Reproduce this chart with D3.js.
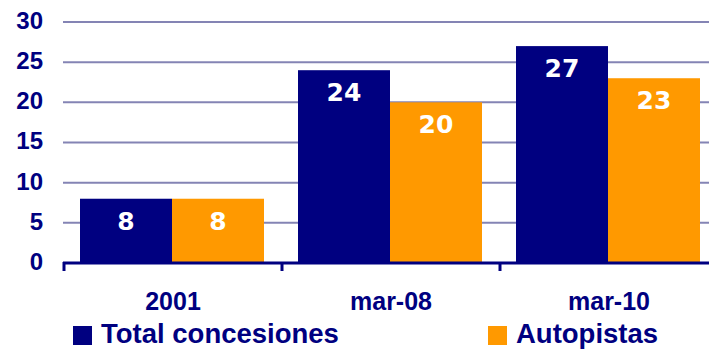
<!DOCTYPE html>
<html>
<head>
<meta charset="utf-8">
<script src="https://cdn.jsdelivr.net/npm/d3@7"></script>
<style>
  html, body { margin: 0; padding: 0; background: #fff; }
  svg { display: block; }
</style>
</head>
<body>
<svg id="chart" width="709" height="349"></svg>
<script>
const categories = ["2001", "mar-08", "mar-10"];
const seriesNames = ["Total concesiones", "Autopistas"];
const totalConcesiones = [8, 24, 27];
const autopistas = [8, 20, 23];
const yTicks = [0, 5, 10, 15, 20, 25, 30];

const colors = ["#000080", "#FF9900"];
const navy = "#000080";
const sans = "'Liberation Sans', Arial, sans-serif";

const W = 709, H = 349;
const svg = d3.select("#chart");

// category bands run from the axis origin past the right edge of the frame
const x0 = d3.scaleBand().domain(categories).range([64, 718]);
const y = d3.scaleLinear().domain([0, 30]).range([263, 22]);

const data = categories.map((c, i) => ({ cat: c, values: [totalConcesiones[i], autopistas[i]] }));

// horizontal gridlines
svg.append("g")
  .selectAll("line")
  .data(yTicks.filter(t => t > 0))
  .join("line")
  .attr("x1", 63).attr("x2", W)
  .attr("y1", d => y(d)).attr("y2", d => y(d))
  .attr("stroke", "#8484b4").attr("stroke-width", 2);

// y axis labels
const yAxis = d3.axisLeft(y).tickValues(yTicks).tickSize(0).tickPadding(0);
const yg = svg.append("g").attr("transform", "translate(43,0)").call(yAxis);
yg.select(".domain").remove();
yg.selectAll("text")
  .attr("dy", "0.27em")
  .attr("fill", navy)
  .style("font-family", sans)
  .style("font-weight", "bold")
  .style("font-size", "24px");

// grouped bars
const barW = 92;
const x1 = d3.scaleBand().domain([0, 1]).range([0, barW * 2]);
const groups = svg.append("g").selectAll("g")
  .data(data)
  .join("g")
  .attr("transform", d => `translate(${x0(d.cat) + x0.bandwidth() / 2 - barW - 1},0)`);

groups.selectAll("rect")
  .data(d => d.values.map((v, k) => ({ v, k })))
  .join("rect")
  .attr("x", d => x1(d.k))
  .attr("width", x1.bandwidth())
  .attr("y", d => y(d.v))
  .attr("height", d => y(0) - y(d.v))
  .attr("fill", d => colors[d.k]);

// value labels inside the top of each bar
groups.selectAll("text.val")
  .data(d => d.values.map((v, k) => ({ v, k })))
  .join("text")
  .attr("class", "val")
  .attr("x", d => x1(d.k) + x1.bandwidth() / 2)
  .attr("y", d => y(d.v) + 31)
  .attr("text-anchor", "middle")
  .attr("fill", "#fff")
  .style("font-family", "'DejaVu Sans', Verdana, sans-serif")
  .style("font-weight", "bold")
  .style("font-size", "25px")
  .text(d => d.v);

// x axis labels
const xAxis = d3.axisBottom(x0).tickSize(0).tickPadding(0);
const xg = svg.append("g").attr("transform", "translate(0,263)").call(xAxis);
xg.select(".domain").remove();
xg.selectAll("text")
  .attr("y", 47)
  .attr("dy", 0)
  .attr("fill", navy)
  .style("font-family", sans)
  .style("font-weight", "bold")
  .style("font-size", "25px");

// baseline and category separators
svg.append("line")
  .attr("x1", 63).attr("x2", W)
  .attr("y1", 263).attr("y2", 263)
  .attr("stroke", navy).attr("stroke-width", 3);

svg.append("g").selectAll("line")
  .data(d3.range(categories.length + 1))
  .join("line")
  .attr("x1", i => 64 + i * x0.bandwidth())
  .attr("x2", i => 64 + i * x0.bandwidth())
  .attr("y1", 262).attr("y2", 271)
  .attr("stroke", navy).attr("stroke-width", 3);

// legend
const legendX = [73, 488];
const lg = svg.append("g").selectAll("g")
  .data(seriesNames)
  .join("g")
  .attr("transform", (d, i) => `translate(${legendX[i]},326)`);
lg.append("rect").attr("width", 19).attr("height", 19).attr("fill", (d, i) => colors[i]);
lg.append("text")
  .attr("x", 28).attr("y", 17)
  .attr("fill", navy)
  .style("font-family", sans)
  .style("font-weight", "bold")
  .style("font-size", "27.5px")
  .text(d => d);
</script>
</body>
</html>
